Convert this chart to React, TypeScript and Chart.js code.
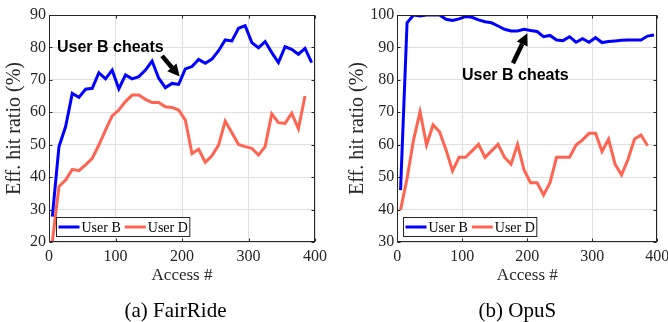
import React, { useEffect, useRef } from "react";
import { Chart, registerables } from "chart.js";

Chart.register(...registerables);

// ---------- data ----------
const ACCESS = [
  5, 15, 25, 35, 45, 55, 65, 75, 85, 95, 105, 115, 125, 135, 145, 155, 165, 175, 185, 195,
  205, 215, 225, 235, 245, 255, 265, 275, 285, 295, 305, 315, 325, 335, 345, 355, 365, 375, 385, 395,
];

const FAIRRIDE_USER_B = [
  27.8, 49.4, 55.6, 65.8, 64.6, 67.1, 67.4, 72.2, 70.3, 73.0, 67.2, 71.5, 70.3, 71.0, 73.0, 75.8, 70.5, 67.6, 68.9, 68.6,
  73.4, 74.1, 76.3, 75.1, 76.4, 79.0, 82.3, 82.0, 85.9, 86.7, 81.5, 79.9, 81.8, 78.4, 75.3, 80.2, 79.4, 77.9, 79.7, 75.3,
];
const FAIRRIDE_USER_D = [
  20.0, 37.1, 39.1, 42.4, 42.0, 43.8, 45.8, 49.9, 54.5, 58.9, 60.7, 63.3, 65.3, 65.3, 64.0, 63.0, 63.0, 61.7, 61.5, 60.7,
  57.6, 47.3, 48.6, 44.6, 46.6, 49.9, 57.3, 53.7, 50.1, 49.4, 48.9, 46.8, 49.4, 59.5, 56.8, 56.6, 59.7, 54.9, 65.0, null,
];
const OPUS_USER_B = [
  46.0, 97.6, 100, 99.7, 100, 100, 100, 98.7, 98.3, 98.8, 99.5, 99.3, 98.5, 97.9, 97.6, 96.6, 95.6, 95.1, 95.1, 95.6,
  95.2, 94.9, 93.3, 93.7, 92.3, 92.1, 93.3, 91.6, 92.7, 91.6, 93.0, 91.5, 91.8, 92.0, 92.2, 92.3, 92.3, 92.3, 93.5, 93.8,
];
const OPUS_USER_D = [
  39.9, 49.6, 61.5, 70.2, 59.9, 66.1, 64.0, 58.4, 51.9, 56.1, 56.1, 58.1, 60.1, 56.1, 58.1, 60.1, 56.1, 54.0, 60.1, 52.2,
  48.3, 48.3, 44.5, 48.3, 56.1, 56.1, 56.1, 59.9, 61.5, 63.5, 63.5, 57.9, 61.7, 54.0, 50.7, 55.5, 61.8, 63.0, 59.7, null,
];

const X_TICKS = [0, 100, 200, 300, 400];
const FAIRRIDE_Y_TICKS = [20, 30, 40, 50, 60, 70, 80, 90];
const OPUS_Y_TICKS = [30, 40, 50, 60, 70, 80, 90, 100];

const SERIES_LABELS = ["User B", "User D"];
const X_TITLE = "Access #";
const Y_TITLE = "Eff. hit ratio (%)";
const NOTE_TEXT = "User B cheats";

// ---------- styles ----------
const BLUE = "#0000ff";
const RED = "#ff6450";
const AXIS = "#262626";
const GRID = "#dfdfdf";
const SERIF = '"Liberation Serif", "Times New Roman", serif';
const SANS = '"Liberation Sans", Arial, sans-serif';

type PanelCfg = {
  caption: string;
  captionX: number;
  captionY: number;
  b: (number | null)[];
  d: (number | null)[];
  yTicks: number[];
  yWidth: number;
  padRight: number;
  yTitlePad: number;
  note: { x: number; y: number };
  arrow: { fromX: number; fromY: number; toX: number; toY: number };
  legendOffset: number;
};

const PANELS: PanelCfg[] = [
  {
    caption: "(a) FairRide",
    captionX: 175.5,
    captionY: 311,
    b: FAIRRIDE_USER_B,
    d: FAIRRIDE_USER_D,
    yTicks: FAIRRIDE_Y_TICKS,
    yWidth: 49,
    padRight: 19,
    yTitlePad: 3,
    note: { x: 12, y: 80.1 },
    arrow: { fromX: 170, fromY: 77.4, toX: 196.5, toY: 71 },
    legendOffset: 7,
  },
  {
    caption: "(b) OpuS",
    captionX: 183.3,
    captionY: 311.5,
    b: OPUS_USER_B,
    d: OPUS_USER_D,
    yTicks: OPUS_Y_TICKS,
    yWidth: 63.3,
    padRight: 10.7,
    yTitlePad: 12,
    note: { x: 99.5, y: 81.2 },
    arrow: { fromX: 178, fromY: 85.1, toX: 200, toY: 94.4 },
    legendOffset: 6,
  },
];

const makeDecor = (p: PanelCfg) => ({
  id: "decor",
  afterDatasetsDraw(chart: any) {
    const { ctx, chartArea: a, scales } = chart;
    const xs = scales.x;
    const ys = scales.y;
    ctx.save();

    // box
    ctx.strokeStyle = AXIS;
    ctx.lineWidth = 1;
    const L = Math.round(a.left) + 0.5;
    const R = Math.round(a.right) - 0.5;
    const T = Math.round(a.top) + 0.5;
    const B = Math.round(a.bottom) - 0.5;
    ctx.strokeRect(L, T, R - L, B - T);

    // inward ticks
    const tl = 3;
    ctx.beginPath();
    for (const v of X_TICKS) {
      const px = Math.round(xs.getPixelForValue(v)) + 0.5;
      ctx.moveTo(px, B);
      ctx.lineTo(px, B - tl);
      ctx.moveTo(px, T);
      ctx.lineTo(px, T + tl);
    }
    for (const v of p.yTicks) {
      const py = Math.round(ys.getPixelForValue(v)) + 0.5;
      ctx.moveTo(L, py);
      ctx.lineTo(L + tl, py);
      ctx.moveTo(R, py);
      ctx.lineTo(R - tl, py);
    }
    ctx.stroke();

    // annotation text
    ctx.font = `bold 16px ${SANS}`;
    ctx.fillStyle = "#000";
    ctx.textAlign = "left";
    ctx.textBaseline = "middle";
    ctx.fillText(NOTE_TEXT, xs.getPixelForValue(p.note.x), ys.getPixelForValue(p.note.y));

    // arrow
    const tx = xs.getPixelForValue(p.arrow.fromX);
    const ty = ys.getPixelForValue(p.arrow.fromY);
    const hx = xs.getPixelForValue(p.arrow.toX);
    const hy = ys.getPixelForValue(p.arrow.toY);
    const ang = Math.atan2(hy - ty, hx - tx);
    const headLen = 12;
    const headW = 6;
    const bx = hx - headLen * Math.cos(ang);
    const by = hy - headLen * Math.sin(ang);
    ctx.strokeStyle = "#000";
    ctx.lineWidth = 4.5;
    ctx.beginPath();
    ctx.moveTo(tx, ty);
    ctx.lineTo(bx, by);
    ctx.stroke();
    ctx.beginPath();
    ctx.moveTo(hx, hy);
    ctx.lineTo(bx + headW * Math.sin(ang), by - headW * Math.cos(ang));
    ctx.lineTo(bx - headW * Math.sin(ang), by + headW * Math.cos(ang));
    ctx.closePath();
    ctx.fillStyle = "#000";
    ctx.fill();

    // legend
    ctx.font = `14px ${SERIF}`;
    const lineLen = 21;
    const items = chart.data.datasets.map((ds: any) => ({ label: ds.label, color: ds.borderColor }));
    let w = 2;
    items.forEach((it: any, i: number) => {
      w += lineLen + 2 + ctx.measureText(it.label).width + (i < items.length - 1 ? 4 : 2);
    });
    const h = 19;
    const lx = Math.round(a.left + p.legendOffset) + 0.5;
    const ly = Math.round(a.bottom - 6 - h) + 0.5;
    ctx.fillStyle = "#fff";
    ctx.fillRect(lx, ly, w, h);
    ctx.strokeStyle = AXIS;
    ctx.lineWidth = 1;
    ctx.strokeRect(lx, ly, w, h);
    let cx = lx + 2;
    const cy = ly + h / 2;
    items.forEach((it: any) => {
      ctx.strokeStyle = it.color;
      ctx.lineWidth = 3;
      ctx.beginPath();
      ctx.moveTo(cx, cy);
      ctx.lineTo(cx + lineLen, cy);
      ctx.stroke();
      cx += lineLen + 2;
      ctx.fillStyle = "#000";
      ctx.textAlign = "left";
      ctx.textBaseline = "middle";
      ctx.fillText(it.label, cx, cy + 1);
      cx += ctx.measureText(it.label).width + 4;
    });

    ctx.restore();
  },
  afterDraw(chart: any) {
    const { ctx } = chart;
    ctx.save();
    ctx.font = `21px ${SERIF}`;
    ctx.fillStyle = "#000";
    ctx.textAlign = "center";
    ctx.textBaseline = "middle";
    ctx.fillText(p.caption, p.captionX, p.captionY);
    ctx.restore();
  },
});

function Panel({ cfg, left }: { cfg: PanelCfg; left: number }) {
  const ref = useRef<HTMLCanvasElement | null>(null);
  useEffect(() => {
    if (!ref.current) return;
    const toPts = (vals: (number | null)[]) => ACCESS.map((x, i) => ({ x, y: vals[i] }));
    const chart = new Chart(ref.current, {
      type: "line",
      data: {
        datasets: [
          {
            label: SERIES_LABELS[0],
            data: toPts(cfg.b) as any,
            borderColor: BLUE,
            backgroundColor: BLUE,
            borderWidth: 3,
            pointRadius: 0,
            tension: 0,
          },
          {
            label: SERIES_LABELS[1],
            data: toPts(cfg.d) as any,
            borderColor: RED,
            backgroundColor: RED,
            borderWidth: 3,
            pointRadius: 0,
            tension: 0,
          },
        ],
      },
      options: {
        animation: false,
        responsive: false,
        devicePixelRatio: 1,
        layout: { padding: { left: 0, top: 15, right: cfg.padRight, bottom: 30 } },
        plugins: { legend: { display: false }, title: { display: false }, tooltip: { enabled: false } },
        scales: {
          x: {
            type: "linear",
            min: 0,
            max: 400,
            afterBuildTicks: (s: any) => {
              s.ticks = X_TICKS.map((v) => ({ value: v }));
            },
            afterFit: (s: any) => {
              s.height = 50;
              s.paddingLeft = 0;
              s.paddingRight = 0;
            },
            grid: { color: GRID, drawTicks: false, lineWidth: 1 },
            border: { display: false },
            ticks: {
              color: AXIS,
              font: { family: SERIF, size: 16 },
              padding: 5,
              maxRotation: 0,
              autoSkip: false,
            },
            title: {
              display: true,
              text: X_TITLE,
              color: AXIS,
              font: { family: SERIF, size: 17 },
              padding: { top: 0, bottom: 5.8 },
            },
          },
          y: {
            type: "linear",
            min: cfg.yTicks[0],
            max: cfg.yTicks[cfg.yTicks.length - 1],
            afterBuildTicks: (s: any) => {
              s.ticks = cfg.yTicks.map((v) => ({ value: v }));
            },
            afterFit: (s: any) => {
              s.width = cfg.yWidth;
              s.paddingTop = 0;
              s.paddingBottom = 0;
            },
            grid: { color: GRID, drawTicks: false, lineWidth: 1 },
            border: { display: false },
            ticks: {
              color: AXIS,
              font: { family: SERIF, size: 16 },
              padding: 3,
              autoSkip: false,
            },
            title: {
              display: true,
              text: Y_TITLE,
              color: AXIS,
              font: { family: SERIF, size: 20 },
              padding: { top: cfg.yTitlePad, bottom: 0 },
            },
          },
        },
      },
      plugins: [makeDecor(cfg)],
    });
    return () => chart.destroy();
  }, [cfg]);
  return (
    <div style={{ position: "absolute", left, top: 0, width: 334, height: 322 }}>
      <canvas ref={ref} width={334} height={322} style={{ display: "block" }} />
    </div>
  );
}

export default function App() {
  return (
    <div style={{ position: "absolute", left: 0, top: 0, width: 668, height: 322, background: "#fff" }}>
      <Panel cfg={PANELS[0]} left={0} />
      <Panel cfg={PANELS[1]} left={334} />
    </div>
  );
}
